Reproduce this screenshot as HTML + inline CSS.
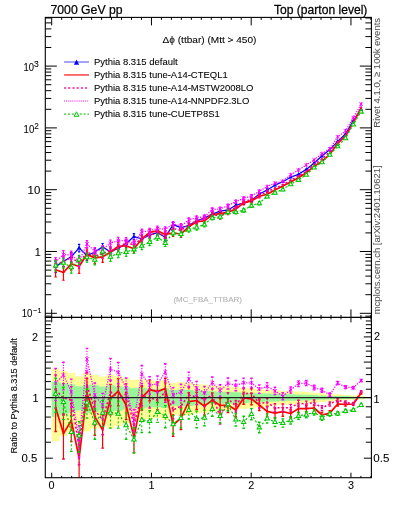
<!DOCTYPE html>
<html><head><meta charset="utf-8"><style>html,body{margin:0;padding:0;background:#fff;width:393px;height:512px;overflow:hidden;position:relative}svg text{font-family:"Liberation Sans",sans-serif;stroke:currentColor;stroke-width:0.08px}</style></head><body><div style="position:absolute;left:0;top:0;width:393px;height:512px;will-change:transform"><svg width="393" height="512" viewBox="0 0 393 512" style="position:absolute;left:0;top:0"><defs><clipPath id="cm"><rect x="45.3" y="17.4" width="326.09999999999997" height="300.0"/></clipPath><clipPath id="cr"><rect x="45.3" y="317.4" width="326.09999999999997" height="160.3"/></clipPath></defs><g clip-path="url(#cr)"><path d="M51.70,441.14 L51.70,368.59 L59.53,368.59 L59.53,370.90 L67.37,370.90 L67.37,372.85 L75.20,372.85 L75.20,376.16 L83.04,376.16 L83.04,373.21 L90.87,373.21 L90.87,374.67 L98.71,374.67 L98.71,376.51 L106.54,376.51 L106.54,374.67 L114.37,374.67 L114.37,376.06 L122.21,376.06 L122.21,377.67 L130.04,377.67 L130.04,379.87 L137.88,379.87 L137.88,379.14 L145.71,379.14 L145.71,380.37 L153.55,380.37 L153.55,380.97 L161.38,380.97 L161.38,379.66 L169.22,379.66 L169.22,383.11 L177.05,383.11 L177.05,382.33 L184.88,382.33 L184.88,382.86 L192.72,382.86 L192.72,384.03 L200.55,384.03 L200.55,384.62 L208.39,384.62 L208.39,385.51 L216.22,385.51 L216.22,386.12 L224.06,386.12 L224.06,386.34 L231.89,386.34 L231.89,387.23 L239.72,387.23 L239.72,387.67 L247.56,387.67 L247.56,388.06 L255.39,388.06 L255.39,389.10 L263.23,389.10 L263.23,389.68 L271.06,389.68 L271.06,390.32 L278.90,390.32 L278.90,390.76 L286.73,390.76 L286.73,391.29 L294.56,391.29 L294.56,391.61 L302.40,391.61 L302.40,392.11 L310.23,392.11 L310.23,392.70 L318.07,392.70 L318.07,393.28 L325.90,393.28 L325.90,393.75 L333.74,393.75 L333.74,394.28 L341.57,394.28 L341.57,394.69 L349.41,394.69 L349.41,395.31 L357.24,395.31 L357.24,395.74 L365.07,395.74 L365.07,399.40 L357.24,399.40 L357.24,399.85 L349.41,399.85 L349.41,400.51 L341.57,400.51 L341.57,400.95 L333.74,400.95 L333.74,401.52 L325.90,401.52 L325.90,402.04 L318.07,402.04 L318.07,402.68 L310.23,402.68 L310.23,403.35 L302.40,403.35 L302.40,403.93 L294.56,403.93 L294.56,404.29 L286.73,404.29 L286.73,404.91 L278.90,404.91 L278.90,405.43 L271.06,405.43 L271.06,406.20 L263.23,406.20 L263.23,406.91 L255.39,406.91 L255.39,408.19 L247.56,408.19 L247.56,408.69 L239.72,408.69 L239.72,409.26 L231.89,409.26 L231.89,410.41 L224.06,410.41 L224.06,410.70 L216.22,410.70 L216.22,411.52 L208.39,411.52 L208.39,412.73 L200.55,412.73 L200.55,413.55 L192.72,413.55 L192.72,415.21 L184.88,415.21 L184.88,416.00 L177.05,416.00 L177.05,414.85 L169.22,414.85 L169.22,420.06 L161.38,420.06 L161.38,418.02 L153.55,418.02 L153.55,418.95 L145.71,418.95 L145.71,420.89 L137.88,420.89 L137.88,419.73 L130.04,419.73 L130.04,423.32 L122.21,423.32 L122.21,426.11 L114.37,426.11 L114.37,428.62 L106.54,428.62 L106.54,425.30 L98.71,425.30 L98.71,428.62 L90.87,428.62 L90.87,431.40 L83.04,431.40 L83.04,425.92 L75.20,425.92 L75.20,432.10 L67.37,432.10 L67.37,436.07 L59.53,436.07 L59.53,441.14 L51.70,441.14 Z" fill="#fffc9a" stroke="none"/><path d="M51.70,416.66 L51.70,381.88 L59.53,381.88 L59.53,383.21 L67.37,383.21 L67.37,384.33 L75.20,384.33 L75.20,386.20 L83.04,386.20 L83.04,384.53 L90.87,384.53 L90.87,385.36 L98.71,385.36 L98.71,386.40 L106.54,386.40 L106.54,385.36 L114.37,385.36 L114.37,386.14 L122.21,386.14 L122.21,387.05 L130.04,387.05 L130.04,388.26 L137.88,388.26 L137.88,387.86 L145.71,387.86 L145.71,388.54 L153.55,388.54 L153.55,388.87 L161.38,388.87 L161.38,388.15 L169.22,388.15 L169.22,390.03 L177.05,390.03 L177.05,389.61 L184.88,389.61 L184.88,389.90 L192.72,389.90 L192.72,390.53 L200.55,390.53 L200.55,390.85 L208.39,390.85 L208.39,391.32 L216.22,391.32 L216.22,391.65 L224.06,391.65 L224.06,391.77 L231.89,391.77 L231.89,392.24 L239.72,392.24 L239.72,392.47 L247.56,392.47 L247.56,392.68 L255.39,392.68 L255.39,393.22 L263.23,393.22 L263.23,393.52 L271.06,393.52 L271.06,393.86 L278.90,393.86 L278.90,394.09 L286.73,394.09 L286.73,394.36 L294.56,394.36 L294.56,394.53 L302.40,394.53 L302.40,394.79 L310.23,394.79 L310.23,395.09 L318.07,395.09 L318.07,395.39 L325.90,395.39 L325.90,395.63 L333.74,395.63 L333.74,395.90 L341.57,395.90 L341.57,396.11 L349.41,396.11 L349.41,396.42 L357.24,396.42 L357.24,396.64 L365.07,396.64 L365.07,398.47 L357.24,398.47 L357.24,398.69 L349.41,398.69 L349.41,399.02 L341.57,399.02 L341.57,399.23 L333.74,399.23 L333.74,399.51 L325.90,399.51 L325.90,399.76 L318.07,399.76 L318.07,400.08 L310.23,400.08 L310.23,400.40 L302.40,400.40 L302.40,400.68 L294.56,400.68 L294.56,400.86 L286.73,400.86 L286.73,401.15 L278.90,401.15 L278.90,401.40 L271.06,401.40 L271.06,401.77 L263.23,401.77 L263.23,402.10 L255.39,402.10 L255.39,402.71 L247.56,402.71 L247.56,402.94 L239.72,402.94 L239.72,403.21 L231.89,403.21 L231.89,403.74 L224.06,403.74 L224.06,403.88 L216.22,403.88 L216.22,404.25 L208.39,404.25 L208.39,404.81 L200.55,404.81 L200.55,405.19 L192.72,405.19 L192.72,405.94 L184.88,405.94 L184.88,406.29 L177.05,406.29 L177.05,405.77 L169.22,405.77 L169.22,408.08 L161.38,408.08 L161.38,407.19 L153.55,407.19 L153.55,407.60 L145.71,407.60 L145.71,408.45 L137.88,408.45 L137.88,407.94 L130.04,407.94 L130.04,409.49 L122.21,409.49 L122.21,410.67 L114.37,410.67 L114.37,411.71 L106.54,411.71 L106.54,410.33 L98.71,410.33 L98.71,411.71 L90.87,411.71 L90.87,412.85 L83.04,412.85 L83.04,410.59 L75.20,410.59 L75.20,413.13 L67.37,413.13 L67.37,414.71 L59.53,414.71 L59.53,416.66 L51.70,416.66 Z" fill="#99f599" stroke="none"/><path d="M55.62,388.86V431.49M63.45,413.96V458.96M71.29,403.54V441.56M79.12,440.25V480.30M86.95,378.54V410.34M94.79,401.26V435.21M102.62,414.83V448.13M110.46,384.37V414.88M118.29,378.64V405.87M126.13,392.54V419.54M133.96,424.29V452.83M141.79,386.64V410.37M149.63,379.84V400.81M157.46,382.00V402.38M165.30,378.28V400.07M173.13,415.03V436.25M180.97,407.86V429.47M188.80,392.76V411.66M196.64,392.34V409.50M204.47,398.16V415.05M212.30,392.97V408.08M220.14,398.45V413.17M227.97,398.10V412.49M235.81,403.48V417.04M243.64,392.17V404.25M251.48,393.18V404.80M259.31,399.83V410.50M267.14,406.32V416.58M274.98,408.49V417.97M282.81,407.41V416.22M290.65,409.50V417.69M298.48,404.91V412.45M306.32,405.23V412.11M314.15,405.01V411.10M321.98,412.27V417.82M329.82,410.69V415.57M337.65,402.03V406.01M345.49,402.58V406.06M353.32,402.66V405.36M361.16,391.98V394.03" stroke="#ff0000" stroke-width="1.2" fill="none"/><path d="M54.32,388.86H56.92M54.32,431.49H56.92M62.15,413.96H64.75M62.15,458.96H64.75M69.99,403.54H72.59M69.99,441.56H72.59M77.82,440.25H80.42M77.82,480.30H80.42M85.65,378.54H88.25M85.65,410.34H88.25M93.49,401.26H96.09M93.49,435.21H96.09M101.32,414.83H103.92M101.32,448.13H103.92M109.16,384.37H111.76M109.16,414.88H111.76M116.99,378.64H119.59M116.99,405.87H119.59M124.83,392.54H127.43M124.83,419.54H127.43M132.66,424.29H135.26M132.66,452.83H135.26M140.49,386.64H143.09M140.49,410.37H143.09M148.33,379.84H150.93M148.33,400.81H150.93M156.16,382.00H158.76M156.16,402.38H158.76M164.00,378.28H166.60M164.00,400.07H166.60M171.83,415.03H174.43M171.83,436.25H174.43M179.67,407.86H182.27M179.67,429.47H182.27M187.50,392.76H190.10M187.50,411.66H190.10M195.34,392.34H197.94M195.34,409.50H197.94M203.17,398.16H205.77M203.17,415.05H205.77M211.00,392.97H213.60M211.00,408.08H213.60M218.84,398.45H221.44M218.84,413.17H221.44M226.67,398.10H229.27M226.67,412.49H229.27M234.51,403.48H237.11M234.51,417.04H237.11M242.34,392.17H244.94M242.34,404.25H244.94M250.18,393.18H252.78M250.18,404.80H252.78M258.01,399.83H260.61M258.01,410.50H260.61M265.84,406.32H268.44M265.84,416.58H268.44M273.68,408.49H276.28M273.68,417.97H276.28M281.51,407.41H284.11M281.51,416.22H284.11M289.35,409.50H291.95M289.35,417.69H291.95M297.18,404.91H299.78M297.18,412.45H299.78M305.02,405.23H307.62M305.02,412.11H307.62M312.85,405.01H315.45M312.85,411.10H315.45M320.68,412.27H323.28M320.68,417.82H323.28M328.52,410.69H331.12M328.52,415.57H331.12M336.35,402.03H338.95M336.35,406.01H338.95M344.19,402.58H346.79M344.19,406.06H346.79M352.02,402.66H354.62M352.02,405.36H354.62M359.86,391.98H362.46M359.86,394.03H362.46" stroke="#ff0000" stroke-width="1.4" fill="none"/><path d="M55.62,407.60 L63.45,433.60 L71.29,420.50 L79.12,458.00 L86.95,393.00 L94.79,416.60 L102.62,429.90 L110.46,398.30 L118.29,391.20 L126.13,405.00 L133.96,437.40 L141.79,397.70 L149.63,389.70 L157.46,391.60 L165.30,388.50 L173.13,425.00 L180.97,418.00 L188.80,401.70 L196.64,400.50 L204.47,406.20 L212.30,400.20 L220.14,405.50 L227.97,405.00 L235.81,410.00 L243.64,398.00 L251.48,398.80 L259.31,405.00 L267.14,411.30 L274.98,413.10 L282.81,411.70 L290.65,413.50 L298.48,408.60 L306.32,408.60 L314.15,408.00 L321.98,415.00 L329.82,413.10 L337.65,404.00 L345.49,404.30 L353.32,404.00 L361.16,393.00" stroke="#ff0000" stroke-width="1.7" fill="none" stroke-linejoin="round"/><path d="M54.62,407.60a1,1 0 1,0 2,0a1,1 0 1,0 -2,0M62.45,433.60a1,1 0 1,0 2,0a1,1 0 1,0 -2,0M70.29,420.50a1,1 0 1,0 2,0a1,1 0 1,0 -2,0M78.12,458.00a1,1 0 1,0 2,0a1,1 0 1,0 -2,0M85.95,393.00a1,1 0 1,0 2,0a1,1 0 1,0 -2,0M93.79,416.60a1,1 0 1,0 2,0a1,1 0 1,0 -2,0M101.62,429.90a1,1 0 1,0 2,0a1,1 0 1,0 -2,0M109.46,398.30a1,1 0 1,0 2,0a1,1 0 1,0 -2,0M117.29,391.20a1,1 0 1,0 2,0a1,1 0 1,0 -2,0M125.13,405.00a1,1 0 1,0 2,0a1,1 0 1,0 -2,0M132.96,437.40a1,1 0 1,0 2,0a1,1 0 1,0 -2,0M140.79,397.70a1,1 0 1,0 2,0a1,1 0 1,0 -2,0M148.63,389.70a1,1 0 1,0 2,0a1,1 0 1,0 -2,0M156.46,391.60a1,1 0 1,0 2,0a1,1 0 1,0 -2,0M164.30,388.50a1,1 0 1,0 2,0a1,1 0 1,0 -2,0M172.13,425.00a1,1 0 1,0 2,0a1,1 0 1,0 -2,0M179.97,418.00a1,1 0 1,0 2,0a1,1 0 1,0 -2,0M187.80,401.70a1,1 0 1,0 2,0a1,1 0 1,0 -2,0M195.64,400.50a1,1 0 1,0 2,0a1,1 0 1,0 -2,0M203.47,406.20a1,1 0 1,0 2,0a1,1 0 1,0 -2,0M211.30,400.20a1,1 0 1,0 2,0a1,1 0 1,0 -2,0M219.14,405.50a1,1 0 1,0 2,0a1,1 0 1,0 -2,0M226.97,405.00a1,1 0 1,0 2,0a1,1 0 1,0 -2,0M234.81,410.00a1,1 0 1,0 2,0a1,1 0 1,0 -2,0M242.64,398.00a1,1 0 1,0 2,0a1,1 0 1,0 -2,0M250.48,398.80a1,1 0 1,0 2,0a1,1 0 1,0 -2,0M258.31,405.00a1,1 0 1,0 2,0a1,1 0 1,0 -2,0M266.14,411.30a1,1 0 1,0 2,0a1,1 0 1,0 -2,0M273.98,413.10a1,1 0 1,0 2,0a1,1 0 1,0 -2,0M281.81,411.70a1,1 0 1,0 2,0a1,1 0 1,0 -2,0M289.65,413.50a1,1 0 1,0 2,0a1,1 0 1,0 -2,0M297.48,408.60a1,1 0 1,0 2,0a1,1 0 1,0 -2,0M305.32,408.60a1,1 0 1,0 2,0a1,1 0 1,0 -2,0M313.15,408.00a1,1 0 1,0 2,0a1,1 0 1,0 -2,0M320.98,415.00a1,1 0 1,0 2,0a1,1 0 1,0 -2,0M328.82,413.10a1,1 0 1,0 2,0a1,1 0 1,0 -2,0M336.65,404.00a1,1 0 1,0 2,0a1,1 0 1,0 -2,0M344.49,404.30a1,1 0 1,0 2,0a1,1 0 1,0 -2,0M352.32,404.00a1,1 0 1,0 2,0a1,1 0 1,0 -2,0M360.16,393.00a1,1 0 1,0 2,0a1,1 0 1,0 -2,0" fill="#ff0000"/><path d="M55.62,374.94V408.21M63.45,383.63V415.20M71.29,386.61V415.82M79.12,432.25V464.76M86.95,372.82V399.15M94.79,396.98V425.30M102.62,407.43V434.69M110.46,380.17V405.68M118.29,386.57V411.15M126.13,383.69V405.68M133.96,414.23V437.28M141.79,385.45V405.73M149.63,388.97V408.07M157.46,391.20V409.78M165.30,382.88V402.19M173.13,401.95V418.86M180.97,397.68V415.19M188.80,387.45V403.26M196.64,390.00V404.61M204.47,392.53V406.64M212.30,388.86V401.60M220.14,410.43V424.10M227.97,392.78V404.83M235.81,400.43V411.95M243.64,388.53V398.76M251.48,388.74V398.54M259.31,398.83V408.01M267.14,398.26V406.74M274.98,403.80V411.79M282.81,404.04V411.52M290.65,404.33V411.21M298.48,400.18V406.54M306.32,401.14V406.96M314.15,399.97V405.10M321.98,405.71V410.35M329.82,402.01V406.04M337.65,398.33V401.71M345.49,401.02V404.01M353.32,402.44V404.78M361.16,390.62V392.39" stroke="#ff0080" stroke-width="1.1" fill="none" stroke-dasharray="2,2.2"/><path d="M54.32,374.94H56.92M54.32,408.21H56.92M62.15,383.63H64.75M62.15,415.20H64.75M69.99,386.61H72.59M69.99,415.82H72.59M77.82,432.25H80.42M77.82,464.76H80.42M85.65,372.82H88.25M85.65,399.15H88.25M93.49,396.98H96.09M93.49,425.30H96.09M101.32,407.43H103.92M101.32,434.69H103.92M109.16,380.17H111.76M109.16,405.68H111.76M116.99,386.57H119.59M116.99,411.15H119.59M124.83,383.69H127.43M124.83,405.68H127.43M132.66,414.23H135.26M132.66,437.28H135.26M140.49,385.45H143.09M140.49,405.73H143.09M148.33,388.97H150.93M148.33,408.07H150.93M156.16,391.20H158.76M156.16,409.78H158.76M164.00,382.88H166.60M164.00,402.19H166.60M171.83,401.95H174.43M171.83,418.86H174.43M179.67,397.68H182.27M179.67,415.19H182.27M187.50,387.45H190.10M187.50,403.26H190.10M195.34,390.00H197.94M195.34,404.61H197.94M203.17,392.53H205.77M203.17,406.64H205.77M211.00,388.86H213.60M211.00,401.60H213.60M218.84,410.43H221.44M218.84,424.10H221.44M226.67,392.78H229.27M226.67,404.83H229.27M234.51,400.43H237.11M234.51,411.95H237.11M242.34,388.53H244.94M242.34,398.76H244.94M250.18,388.74H252.78M250.18,398.54H252.78M258.01,398.83H260.61M258.01,408.01H260.61M265.84,398.26H268.44M265.84,406.74H268.44M273.68,403.80H276.28M273.68,411.79H276.28M281.51,404.04H284.11M281.51,411.52H284.11M289.35,404.33H291.95M289.35,411.21H291.95M297.18,400.18H299.78M297.18,406.54H299.78M305.02,401.14H307.62M305.02,406.96H307.62M312.85,399.97H315.45M312.85,405.10H315.45M320.68,405.71H323.28M320.68,410.35H323.28M328.52,402.01H331.12M328.52,406.04H331.12M336.35,398.33H338.95M336.35,401.71H338.95M344.19,401.02H346.79M344.19,404.01H346.79M352.02,402.44H354.62M352.02,404.78H354.62M359.86,390.62H362.46M359.86,392.39H362.46" stroke="#ff0080" stroke-width="1.4" fill="none"/><path d="M55.62,390.00 L63.45,398.00 L71.29,400.00 L79.12,447.00 L86.95,385.00 L94.79,410.00 L102.62,420.00 L110.46,392.00 L118.29,398.00 L126.13,394.00 L133.96,425.00 L141.79,395.00 L149.63,398.00 L157.46,400.00 L165.30,392.00 L173.13,410.00 L180.97,406.00 L188.80,395.00 L196.64,397.00 L204.47,399.30 L212.30,395.00 L220.14,417.00 L227.97,398.60 L235.81,406.00 L243.64,393.50 L251.48,393.50 L259.31,403.30 L267.14,402.40 L274.98,407.70 L282.81,407.70 L290.65,407.70 L298.48,403.30 L306.32,404.00 L314.15,402.50 L321.98,408.00 L329.82,404.00 L337.65,400.00 L345.49,402.50 L353.32,403.60 L361.16,391.50" stroke="#ff0080" stroke-width="1.6" fill="none" stroke-dasharray="2,2.2" stroke-linejoin="round"/><path d="M54.52,390.00a1.1,1.1 0 1,0 2.2,0a1.1,1.1 0 1,0 -2.2,0M62.35,398.00a1.1,1.1 0 1,0 2.2,0a1.1,1.1 0 1,0 -2.2,0M70.19,400.00a1.1,1.1 0 1,0 2.2,0a1.1,1.1 0 1,0 -2.2,0M78.02,447.00a1.1,1.1 0 1,0 2.2,0a1.1,1.1 0 1,0 -2.2,0M85.85,385.00a1.1,1.1 0 1,0 2.2,0a1.1,1.1 0 1,0 -2.2,0M93.69,410.00a1.1,1.1 0 1,0 2.2,0a1.1,1.1 0 1,0 -2.2,0M101.52,420.00a1.1,1.1 0 1,0 2.2,0a1.1,1.1 0 1,0 -2.2,0M109.36,392.00a1.1,1.1 0 1,0 2.2,0a1.1,1.1 0 1,0 -2.2,0M117.19,398.00a1.1,1.1 0 1,0 2.2,0a1.1,1.1 0 1,0 -2.2,0M125.03,394.00a1.1,1.1 0 1,0 2.2,0a1.1,1.1 0 1,0 -2.2,0M132.86,425.00a1.1,1.1 0 1,0 2.2,0a1.1,1.1 0 1,0 -2.2,0M140.69,395.00a1.1,1.1 0 1,0 2.2,0a1.1,1.1 0 1,0 -2.2,0M148.53,398.00a1.1,1.1 0 1,0 2.2,0a1.1,1.1 0 1,0 -2.2,0M156.36,400.00a1.1,1.1 0 1,0 2.2,0a1.1,1.1 0 1,0 -2.2,0M164.20,392.00a1.1,1.1 0 1,0 2.2,0a1.1,1.1 0 1,0 -2.2,0M172.03,410.00a1.1,1.1 0 1,0 2.2,0a1.1,1.1 0 1,0 -2.2,0M179.87,406.00a1.1,1.1 0 1,0 2.2,0a1.1,1.1 0 1,0 -2.2,0M187.70,395.00a1.1,1.1 0 1,0 2.2,0a1.1,1.1 0 1,0 -2.2,0M195.54,397.00a1.1,1.1 0 1,0 2.2,0a1.1,1.1 0 1,0 -2.2,0M203.37,399.30a1.1,1.1 0 1,0 2.2,0a1.1,1.1 0 1,0 -2.2,0M211.20,395.00a1.1,1.1 0 1,0 2.2,0a1.1,1.1 0 1,0 -2.2,0M219.04,417.00a1.1,1.1 0 1,0 2.2,0a1.1,1.1 0 1,0 -2.2,0M226.87,398.60a1.1,1.1 0 1,0 2.2,0a1.1,1.1 0 1,0 -2.2,0M234.71,406.00a1.1,1.1 0 1,0 2.2,0a1.1,1.1 0 1,0 -2.2,0M242.54,393.50a1.1,1.1 0 1,0 2.2,0a1.1,1.1 0 1,0 -2.2,0M250.38,393.50a1.1,1.1 0 1,0 2.2,0a1.1,1.1 0 1,0 -2.2,0M258.21,403.30a1.1,1.1 0 1,0 2.2,0a1.1,1.1 0 1,0 -2.2,0M266.04,402.40a1.1,1.1 0 1,0 2.2,0a1.1,1.1 0 1,0 -2.2,0M273.88,407.70a1.1,1.1 0 1,0 2.2,0a1.1,1.1 0 1,0 -2.2,0M281.71,407.70a1.1,1.1 0 1,0 2.2,0a1.1,1.1 0 1,0 -2.2,0M289.55,407.70a1.1,1.1 0 1,0 2.2,0a1.1,1.1 0 1,0 -2.2,0M297.38,403.30a1.1,1.1 0 1,0 2.2,0a1.1,1.1 0 1,0 -2.2,0M305.22,404.00a1.1,1.1 0 1,0 2.2,0a1.1,1.1 0 1,0 -2.2,0M313.05,402.50a1.1,1.1 0 1,0 2.2,0a1.1,1.1 0 1,0 -2.2,0M320.88,408.00a1.1,1.1 0 1,0 2.2,0a1.1,1.1 0 1,0 -2.2,0M328.72,404.00a1.1,1.1 0 1,0 2.2,0a1.1,1.1 0 1,0 -2.2,0M336.55,400.00a1.1,1.1 0 1,0 2.2,0a1.1,1.1 0 1,0 -2.2,0M344.39,402.50a1.1,1.1 0 1,0 2.2,0a1.1,1.1 0 1,0 -2.2,0M352.22,403.60a1.1,1.1 0 1,0 2.2,0a1.1,1.1 0 1,0 -2.2,0M360.06,391.50a1.1,1.1 0 1,0 2.2,0a1.1,1.1 0 1,0 -2.2,0" fill="#ff0080"/><path d="M55.62,368.48V400.42M63.45,362.28V389.89M71.29,379.16V407.05M79.12,425.78V456.99M86.95,348.41V371.05M94.79,382.98V408.94M102.62,393.40V418.38M110.46,358.54V380.88M118.29,362.53V383.75M126.13,378.02V399.26M133.96,409.52V431.91M141.79,365.47V383.45M149.63,376.58V394.31M157.46,375.94V392.88M165.30,363.82V381.03M173.13,387.59V403.10M180.97,384.29V400.45M188.80,372.09V386.50M196.64,381.34V395.21M204.47,386.46V400.07M212.30,376.96V388.84M220.14,384.73V396.46M227.97,378.05V389.10M235.81,380.53V390.77M243.64,378.12V387.74M251.48,378.31V387.53M259.31,384.87V393.33M267.14,382.62V390.35M274.98,387.25V394.50M282.81,392.77V399.77M290.65,386.95V393.16M298.48,380.90V386.59M306.32,380.36V385.52M314.15,385.18V389.88M321.98,388.13V392.32M329.82,392.91V396.73M337.65,381.38V384.45M345.49,385.74V388.48M353.32,386.73V388.88M361.16,379.67V381.33" stroke="#ff00ff" stroke-width="1.1" fill="none" stroke-dasharray="1.2,1.3"/><path d="M54.32,368.48H56.92M54.32,400.42H56.92M62.15,362.28H64.75M62.15,389.89H64.75M69.99,379.16H72.59M69.99,407.05H72.59M77.82,425.78H80.42M77.82,456.99H80.42M85.65,348.41H88.25M85.65,371.05H88.25M93.49,382.98H96.09M93.49,408.94H96.09M101.32,393.40H103.92M101.32,418.38H103.92M109.16,358.54H111.76M109.16,380.88H111.76M116.99,362.53H119.59M116.99,383.75H119.59M124.83,378.02H127.43M124.83,399.26H127.43M132.66,409.52H135.26M132.66,431.91H135.26M140.49,365.47H143.09M140.49,383.45H143.09M148.33,376.58H150.93M148.33,394.31H150.93M156.16,375.94H158.76M156.16,392.88H158.76M164.00,363.82H166.60M164.00,381.03H166.60M171.83,387.59H174.43M171.83,403.10H174.43M179.67,384.29H182.27M179.67,400.45H182.27M187.50,372.09H190.10M187.50,386.50H190.10M195.34,381.34H197.94M195.34,395.21H197.94M203.17,386.46H205.77M203.17,400.07H205.77M211.00,376.96H213.60M211.00,388.84H213.60M218.84,384.73H221.44M218.84,396.46H221.44M226.67,378.05H229.27M226.67,389.10H229.27M234.51,380.53H237.11M234.51,390.77H237.11M242.34,378.12H244.94M242.34,387.74H244.94M250.18,378.31H252.78M250.18,387.53H252.78M258.01,384.87H260.61M258.01,393.33H260.61M265.84,382.62H268.44M265.84,390.35H268.44M273.68,387.25H276.28M273.68,394.50H276.28M281.51,392.77H284.11M281.51,399.77H284.11M289.35,386.95H291.95M289.35,393.16H291.95M297.18,380.90H299.78M297.18,386.59H299.78M305.02,380.36H307.62M305.02,385.52H307.62M312.85,385.18H315.45M312.85,389.88H315.45M320.68,388.13H323.28M320.68,392.32H323.28M328.52,392.91H331.12M328.52,396.73H331.12M336.35,381.38H338.95M336.35,384.45H338.95M344.19,385.74H346.79M344.19,388.48H346.79M352.02,386.73H354.62M352.02,388.88H354.62M359.86,379.67H362.46M359.86,381.33H362.46" stroke="#ff00ff" stroke-width="1.4" fill="none"/><path d="M55.62,383.00 L63.45,375.00 L71.29,392.00 L79.12,440.00 L86.95,359.00 L94.79,395.00 L102.62,405.00 L110.46,369.00 L118.29,372.50 L126.13,388.00 L133.96,420.00 L141.79,374.00 L149.63,385.00 L157.46,384.00 L165.30,372.00 L173.13,395.00 L180.97,392.00 L188.80,379.00 L196.64,388.00 L204.47,393.00 L212.30,382.70 L220.14,390.40 L227.97,383.40 L235.81,385.50 L243.64,382.80 L251.48,382.80 L259.31,389.00 L267.14,386.40 L274.98,390.80 L282.81,396.20 L290.65,390.00 L298.48,383.70 L306.32,382.90 L314.15,387.50 L321.98,390.20 L329.82,394.80 L337.65,382.90 L345.49,387.10 L353.32,387.80 L361.16,380.50" stroke="#ff00ff" stroke-width="1.3" fill="none" stroke-dasharray="1.2,1.3" stroke-linejoin="round"/><path d="M53.92,381.30L57.32,384.70M57.32,381.30L53.92,384.70M55.62,380.90V385.10M61.75,373.30L65.15,376.70M65.15,373.30L61.75,376.70M63.45,372.90V377.10M69.59,390.30L72.99,393.70M72.99,390.30L69.59,393.70M71.29,389.90V394.10M77.42,438.30L80.82,441.70M80.82,438.30L77.42,441.70M79.12,437.90V442.10M85.25,357.30L88.65,360.70M88.65,357.30L85.25,360.70M86.95,356.90V361.10M93.09,393.30L96.49,396.70M96.49,393.30L93.09,396.70M94.79,392.90V397.10M100.92,403.30L104.32,406.70M104.32,403.30L100.92,406.70M102.62,402.90V407.10M108.76,367.30L112.16,370.70M112.16,367.30L108.76,370.70M110.46,366.90V371.10M116.59,370.80L119.99,374.20M119.99,370.80L116.59,374.20M118.29,370.40V374.60M124.43,386.30L127.83,389.70M127.83,386.30L124.43,389.70M126.13,385.90V390.10M132.26,418.30L135.66,421.70M135.66,418.30L132.26,421.70M133.96,417.90V422.10M140.09,372.30L143.49,375.70M143.49,372.30L140.09,375.70M141.79,371.90V376.10M147.93,383.30L151.33,386.70M151.33,383.30L147.93,386.70M149.63,382.90V387.10M155.76,382.30L159.16,385.70M159.16,382.30L155.76,385.70M157.46,381.90V386.10M163.60,370.30L167.00,373.70M167.00,370.30L163.60,373.70M165.30,369.90V374.10M171.43,393.30L174.83,396.70M174.83,393.30L171.43,396.70M173.13,392.90V397.10M179.27,390.30L182.67,393.70M182.67,390.30L179.27,393.70M180.97,389.90V394.10M187.10,377.30L190.50,380.70M190.50,377.30L187.10,380.70M188.80,376.90V381.10M194.94,386.30L198.34,389.70M198.34,386.30L194.94,389.70M196.64,385.90V390.10M202.77,391.30L206.17,394.70M206.17,391.30L202.77,394.70M204.47,390.90V395.10M210.60,381.00L214.00,384.40M214.00,381.00L210.60,384.40M212.30,380.60V384.80M218.44,388.70L221.84,392.10M221.84,388.70L218.44,392.10M220.14,388.30V392.50M226.27,381.70L229.67,385.10M229.67,381.70L226.27,385.10M227.97,381.30V385.50M234.11,383.80L237.51,387.20M237.51,383.80L234.11,387.20M235.81,383.40V387.60M241.94,381.10L245.34,384.50M245.34,381.10L241.94,384.50M243.64,380.70V384.90M249.78,381.10L253.18,384.50M253.18,381.10L249.78,384.50M251.48,380.70V384.90M257.61,387.30L261.01,390.70M261.01,387.30L257.61,390.70M259.31,386.90V391.10M265.44,384.70L268.84,388.10M268.84,384.70L265.44,388.10M267.14,384.30V388.50M273.28,389.10L276.68,392.50M276.68,389.10L273.28,392.50M274.98,388.70V392.90M281.11,394.50L284.51,397.90M284.51,394.50L281.11,397.90M282.81,394.10V398.30M288.95,388.30L292.35,391.70M292.35,388.30L288.95,391.70M290.65,387.90V392.10M296.78,382.00L300.18,385.40M300.18,382.00L296.78,385.40M298.48,381.60V385.80M304.62,381.20L308.02,384.60M308.02,381.20L304.62,384.60M306.32,380.80V385.00M312.45,385.80L315.85,389.20M315.85,385.80L312.45,389.20M314.15,385.40V389.60M320.28,388.50L323.68,391.90M323.68,388.50L320.28,391.90M321.98,388.10V392.30M328.12,393.10L331.52,396.50M331.52,393.10L328.12,396.50M329.82,392.70V396.90M335.95,381.20L339.35,384.60M339.35,381.20L335.95,384.60M337.65,380.80V385.00M343.79,385.40L347.19,388.80M347.19,385.40L343.79,388.80M345.49,385.00V389.20M351.62,386.10L355.02,389.50M355.02,386.10L351.62,389.50M353.32,385.70V389.90M359.46,378.80L362.86,382.20M362.86,378.80L359.46,382.20M361.16,378.40V382.60" fill="none" stroke="#ff00ff" stroke-width="0.95"/><path d="M55.62,378.25V412.23M63.45,387.32V419.65M71.29,416.15V451.37M79.12,421.61V452.02M86.95,389.04V418.17M94.79,408.77V439.27M102.62,400.52V426.63M110.46,399.40V428.16M118.29,401.17V428.09M126.13,412.92V439.25M133.96,427.77V452.82M141.79,409.07V432.50M149.63,410.77V432.59M157.46,402.52V422.41M165.30,405.61V427.79M173.13,415.41V433.75M180.97,409.12V427.88M188.80,401.71V418.93M196.64,411.10V427.68M204.47,410.12V425.78M212.30,402.37V416.18M220.14,409.47V423.06M227.97,398.30V410.75M235.81,413.50V425.94M243.64,416.18V428.23M251.48,408.66V419.68M259.31,422.19V432.73M267.14,413.88V423.17M274.98,417.77V426.44M282.81,418.91V427.08M290.65,416.58V423.97M298.48,412.45V419.28M306.32,411.56V417.75M314.15,409.53V414.95M321.98,415.28V420.19M329.82,411.89V416.16M337.65,411.69V415.34M345.49,409.44V412.58M353.32,408.59V411.02M361.16,403.95V405.86" stroke="#00c800" stroke-width="1.0" fill="none" stroke-dasharray="2.2,1.8"/><path d="M54.32,378.25H56.92M54.32,412.23H56.92M62.15,387.32H64.75M62.15,419.65H64.75M69.99,416.15H72.59M69.99,451.37H72.59M77.82,421.61H80.42M77.82,452.02H80.42M85.65,389.04H88.25M85.65,418.17H88.25M93.49,408.77H96.09M93.49,439.27H96.09M101.32,400.52H103.92M101.32,426.63H103.92M109.16,399.40H111.76M109.16,428.16H111.76M116.99,401.17H119.59M116.99,428.09H119.59M124.83,412.92H127.43M124.83,439.25H127.43M132.66,427.77H135.26M132.66,452.82H135.26M140.49,409.07H143.09M140.49,432.50H143.09M148.33,410.77H150.93M148.33,432.59H150.93M156.16,402.52H158.76M156.16,422.41H158.76M164.00,405.61H166.60M164.00,427.79H166.60M171.83,415.41H174.43M171.83,433.75H174.43M179.67,409.12H182.27M179.67,427.88H182.27M187.50,401.71H190.10M187.50,418.93H190.10M195.34,411.10H197.94M195.34,427.68H197.94M203.17,410.12H205.77M203.17,425.78H205.77M211.00,402.37H213.60M211.00,416.18H213.60M218.84,409.47H221.44M218.84,423.06H221.44M226.67,398.30H229.27M226.67,410.75H229.27M234.51,413.50H237.11M234.51,425.94H237.11M242.34,416.18H244.94M242.34,428.23H244.94M250.18,408.66H252.78M250.18,419.68H252.78M258.01,422.19H260.61M258.01,432.73H260.61M265.84,413.88H268.44M265.84,423.17H268.44M273.68,417.77H276.28M273.68,426.44H276.28M281.51,418.91H284.11M281.51,427.08H284.11M289.35,416.58H291.95M289.35,423.97H291.95M297.18,412.45H299.78M297.18,419.28H299.78M305.02,411.56H307.62M305.02,417.75H307.62M312.85,409.53H315.45M312.85,414.95H315.45M320.68,415.28H323.28M320.68,420.19H323.28M328.52,411.89H331.12M328.52,416.16H331.12M336.35,411.69H338.95M336.35,415.34H338.95M344.19,409.44H346.79M344.19,412.58H346.79M352.02,408.59H354.62M352.02,411.02H354.62M359.86,403.95H362.46M359.86,405.86H362.46" stroke="#00c800" stroke-width="1.4" fill="none"/><path d="M55.62,393.60 L63.45,402.00 L71.29,432.00 L79.12,435.50 L86.95,402.40 L94.79,422.70 L102.62,412.60 L110.46,412.60 L118.29,413.60 L126.13,425.10 L133.96,439.40 L141.79,420.00 L149.63,421.00 L157.46,411.90 L165.30,416.00 L173.13,424.10 L180.97,418.00 L188.80,409.90 L196.64,419.00 L204.47,417.60 L212.30,409.00 L220.14,416.00 L227.97,404.30 L235.81,419.50 L243.64,422.00 L251.48,414.00 L259.31,427.30 L267.14,418.40 L274.98,422.00 L282.81,422.90 L290.65,420.20 L298.48,415.80 L306.32,414.60 L314.15,412.20 L321.98,417.70 L329.82,414.00 L337.65,413.50 L345.49,411.00 L353.32,409.80 L361.16,404.90" stroke="#00c800" stroke-width="1.2" fill="none" stroke-dasharray="2.2,1.8" stroke-linejoin="round"/><path d="M55.62,391.20L57.82,395.15H53.42ZM63.45,399.60L65.65,403.55H61.25ZM71.29,429.60L73.49,433.55H69.09ZM79.12,433.10L81.32,437.05H76.92ZM86.95,400.00L89.15,403.95H84.75ZM94.79,420.30L96.99,424.25H92.59ZM102.62,410.20L104.82,414.15H100.42ZM110.46,410.20L112.66,414.15H108.26ZM118.29,411.20L120.49,415.15H116.09ZM126.13,422.70L128.33,426.65H123.93ZM133.96,437.00L136.16,440.95H131.76ZM141.79,417.60L143.99,421.55H139.59ZM149.63,418.60L151.83,422.55H147.43ZM157.46,409.50L159.66,413.45H155.26ZM165.30,413.60L167.50,417.55H163.10ZM173.13,421.70L175.33,425.65H170.93ZM180.97,415.60L183.17,419.55H178.77ZM188.80,407.50L191.00,411.45H186.60ZM196.64,416.60L198.84,420.55H194.44ZM204.47,415.20L206.67,419.15H202.27ZM212.30,406.60L214.50,410.55H210.10ZM220.14,413.60L222.34,417.55H217.94ZM227.97,401.90L230.17,405.85H225.77ZM235.81,417.10L238.01,421.05H233.61ZM243.64,419.60L245.84,423.55H241.44ZM251.48,411.60L253.68,415.55H249.28ZM259.31,424.90L261.51,428.85H257.11ZM267.14,416.00L269.34,419.95H264.94ZM274.98,419.60L277.18,423.55H272.78ZM282.81,420.50L285.01,424.45H280.61ZM290.65,417.80L292.85,421.75H288.45ZM298.48,413.40L300.68,417.35H296.28ZM306.32,412.20L308.52,416.15H304.12ZM314.15,409.80L316.35,413.75H311.95ZM321.98,415.30L324.18,419.25H319.78ZM329.82,411.60L332.02,415.55H327.62ZM337.65,411.10L339.85,415.05H335.45ZM345.49,408.60L347.69,412.55H343.29ZM353.32,407.40L355.52,411.35H351.12ZM361.16,402.50L363.36,406.45H358.96Z" fill="#fff" stroke="#00c800" stroke-width="1.05"/></g><g clip-path="url(#cm)"><path d="M55.62,261.79V272.46M63.45,257.00V266.66M71.29,252.64V261.48M79.12,244.42V251.90M86.95,251.81V260.49M94.79,248.26V256.35M102.62,243.48V250.82M110.46,248.26V256.35M118.29,244.70V252.23M126.13,240.28V247.16M133.96,233.65V239.69M141.79,235.93V242.24M149.63,232.04V237.88M157.46,230.04V235.66M165.30,234.32V240.43M173.13,222.29V227.12M180.97,225.26V230.38M188.80,223.25V228.17M196.64,218.65V223.14M204.47,216.14V220.43M212.30,212.19V216.16M220.14,209.29V213.04M227.97,208.23V211.90M235.81,203.67V207.04M243.64,201.24V204.45M251.48,199.01V202.08M259.31,192.67V195.40M267.14,188.76V191.29M274.98,184.07V186.38M282.81,180.64V182.81M290.65,176.22V178.21M298.48,173.37V175.26M306.32,168.55V170.28M314.15,162.25V163.78M321.98,155.34V156.68M329.82,149.01V150.20M337.65,140.89V141.92M345.49,133.66V134.55M353.32,120.35V121.05M361.16,109.02V109.58" stroke="#0000ff" stroke-width="1.0" fill="none"/><path d="M54.42,261.79H56.82M54.42,272.46H56.82M62.25,257.00H64.65M62.25,266.66H64.65M70.09,252.64H72.49M70.09,261.48H72.49M77.92,244.42H80.32M77.92,251.90H80.32M85.75,251.81H88.15M85.75,260.49H88.15M93.59,248.26H95.99M93.59,256.35H95.99M101.42,243.48H103.82M101.42,250.82H103.82M109.26,248.26H111.66M109.26,256.35H111.66M117.09,244.70H119.49M117.09,252.23H119.49M124.93,240.28H127.33M124.93,247.16H127.33M132.76,233.65H135.16M132.76,239.69H135.16M140.59,235.93H142.99M140.59,242.24H142.99M148.43,232.04H150.83M148.43,237.88H150.83M156.26,230.04H158.66M156.26,235.66H158.66M164.10,234.32H166.50M164.10,240.43H166.50M171.93,222.29H174.33M171.93,227.12H174.33M179.77,225.26H182.17M179.77,230.38H182.17M187.60,223.25H190.00M187.60,228.17H190.00M195.44,218.65H197.84M195.44,223.14H197.84M203.27,216.14H205.67M203.27,220.43H205.67M211.10,212.19H213.50M211.10,216.16H213.50M218.94,209.29H221.34M218.94,213.04H221.34M226.77,208.23H229.17M226.77,211.90H229.17M234.61,203.67H237.01M234.61,207.04H237.01M242.44,201.24H244.84M242.44,204.45H244.84M250.28,199.01H252.68M250.28,202.08H252.68M258.11,192.67H260.51M258.11,195.40H260.51M265.94,188.76H268.34M265.94,191.29H268.34" stroke="#0000ff" stroke-width="1.2" fill="none"/><path d="M55.62,266.60 L63.45,261.40 L71.29,256.70 L79.12,247.90 L86.95,255.80 L94.79,252.00 L102.62,246.90 L110.46,252.00 L118.29,248.20 L126.13,243.50 L133.96,236.50 L141.79,238.90 L149.63,234.80 L157.46,232.70 L165.30,237.20 L173.13,224.60 L180.97,227.70 L188.80,225.60 L196.64,220.80 L204.47,218.20 L212.30,214.10 L220.14,211.10 L227.97,210.00 L235.81,205.30 L243.64,202.80 L251.48,200.50 L259.31,194.00 L267.14,190.00 L274.98,185.20 L282.81,181.70 L290.65,177.20 L298.48,174.30 L306.32,169.40 L314.15,163.00 L321.98,156.00 L329.82,149.60 L337.65,141.40 L345.49,134.10 L353.32,120.70 L361.16,109.30" stroke="#0000ff" stroke-width="1.3" fill="none" stroke-linejoin="round"/><path d="M55.62,264.30L57.72,268.00H53.52ZM63.45,259.10L65.55,262.80H61.35ZM71.29,254.40L73.39,258.10H69.19ZM79.12,245.60L81.22,249.30H77.02ZM86.95,253.50L89.05,257.20H84.85ZM94.79,249.70L96.89,253.40H92.69ZM102.62,244.60L104.72,248.30H100.52ZM110.46,249.70L112.56,253.40H108.36ZM118.29,245.90L120.39,249.60H116.19ZM126.13,241.20L128.23,244.90H124.03ZM133.96,234.20L136.06,237.90H131.86ZM141.79,236.60L143.89,240.30H139.69ZM149.63,232.50L151.73,236.20H147.53ZM157.46,230.40L159.56,234.10H155.36ZM165.30,234.90L167.40,238.60H163.20ZM173.13,222.30L175.23,226.00H171.03ZM180.97,225.40L183.07,229.10H178.87ZM188.80,223.30L190.90,227.00H186.70ZM196.64,218.50L198.74,222.20H194.54ZM204.47,215.90L206.57,219.60H202.37ZM212.30,211.80L214.40,215.50H210.20ZM220.14,208.80L222.24,212.50H218.04ZM227.97,207.70L230.07,211.40H225.87ZM235.81,203.00L237.91,206.70H233.71ZM243.64,200.50L245.74,204.20H241.54ZM251.48,198.20L253.58,201.90H249.38ZM259.31,191.70L261.41,195.40H257.21ZM267.14,187.70L269.24,191.40H265.04ZM274.98,182.90L277.08,186.60H272.88ZM282.81,179.40L284.91,183.10H280.71ZM290.65,174.90L292.75,178.60H288.55ZM298.48,172.00L300.58,175.70H296.38ZM306.32,167.10L308.42,170.80H304.22ZM314.15,160.70L316.25,164.40H312.05ZM321.98,153.70L324.08,157.40H319.88ZM329.82,147.30L331.92,151.00H327.72ZM337.65,139.10L339.75,142.80H335.55ZM345.49,131.80L347.59,135.50H343.39ZM353.32,118.40L355.42,122.10H351.22ZM361.16,107.00L363.26,110.70H359.06Z" fill="#0000ff"/><path d="M55.62,263.93V277.01M63.45,266.44V280.24M71.29,258.54V270.20M79.12,261.00V273.29M86.95,249.97V259.72M94.79,253.14V263.56M102.62,252.20V262.42M110.46,247.96V257.32M118.29,242.40V250.75M126.13,241.96V250.25M133.96,244.70V253.46M141.79,235.55V242.83M149.63,229.37V235.80M157.46,227.93V234.18M165.30,231.29V237.97M173.13,229.96V236.48M180.97,230.86V237.49M188.80,224.13V229.93M196.64,219.20V224.47M204.47,218.39V223.57M212.30,212.70V217.33M220.14,211.38V215.89M227.97,210.17V214.58M235.81,207.12V211.28M243.64,201.15V204.85M251.48,199.16V202.73M259.31,194.70V197.97M267.14,192.69V195.84M274.98,188.56V191.46M282.81,184.72V187.43M290.65,180.87V183.38M298.48,176.56V178.87M306.32,171.76V173.87M314.15,165.29V167.16M321.98,160.52V162.22M329.82,153.63V155.13M337.65,142.78V144.00M345.49,135.64V136.71M353.32,122.27V123.10M361.16,107.59V108.22" stroke="#ff0000" stroke-width="1.2" fill="none"/><path d="M54.42,263.93H56.82M54.42,277.01H56.82M62.25,266.44H64.65M62.25,280.24H64.65M70.09,258.54H72.49M70.09,270.20H72.49M77.92,261.00H80.32M77.92,273.29H80.32M85.75,249.97H88.15M85.75,259.72H88.15M93.59,253.14H95.99M93.59,263.56H95.99M101.42,252.20H103.82M101.42,262.42H103.82M109.26,247.96H111.66M109.26,257.32H111.66M117.09,242.40H119.49M117.09,250.75H119.49M124.93,241.96H127.33M124.93,250.25H127.33M132.76,244.70H135.16M132.76,253.46H135.16M140.59,235.55H142.99M140.59,242.83H142.99M148.43,229.37H150.83M148.43,235.80H150.83M156.26,227.93H158.66M156.26,234.18H158.66M164.10,231.29H166.50M164.10,237.97H166.50M171.93,229.96H174.33M171.93,236.48H174.33M179.77,230.86H182.17M179.77,237.49H182.17M187.60,224.13H190.00M187.60,229.93H190.00M195.44,219.20H197.84M195.44,224.47H197.84M203.27,218.39H205.67M203.27,223.57H205.67M211.10,212.70H213.50M211.10,217.33H213.50M218.94,211.38H221.34M218.94,215.89H221.34M226.77,210.17H229.17M226.77,214.58H229.17M234.61,207.12H237.01M234.61,211.28H237.01M242.44,201.15H244.84M242.44,204.85H244.84M250.28,199.16H252.68M250.28,202.73H252.68M258.11,194.70H260.51M258.11,197.97H260.51M265.94,192.69H268.34M265.94,195.84H268.34M273.78,188.56H276.18M273.78,191.46H276.18M281.61,184.72H284.01M281.61,187.43H284.01M289.45,180.87H291.85M289.45,183.38H291.85" stroke="#ff0000" stroke-width="1.2" fill="none"/><path d="M55.62,269.68 L63.45,272.46 L71.29,263.74 L79.12,266.45 L86.95,254.40 L94.79,257.85 L102.62,256.83 L110.46,252.23 L118.29,246.25 L126.13,245.79 L133.96,248.73 L141.79,238.95 L149.63,232.39 L157.46,230.87 L165.30,234.42 L173.13,233.02 L180.97,233.97 L188.80,226.87 L196.64,221.71 L204.47,220.85 L212.30,214.91 L220.14,213.54 L227.97,212.29 L235.81,209.12 L243.64,202.94 L251.48,200.88 L259.31,196.29 L267.14,194.22 L274.98,189.97 L282.81,186.04 L290.65,182.09 L298.48,177.69 L306.32,172.79 L314.15,166.21 L321.98,161.35 L329.82,154.37 L337.65,143.38 L345.49,136.17 L353.32,122.68 L361.16,107.90" stroke="#ff0000" stroke-width="1.7" fill="none" stroke-linejoin="round"/><path d="M54.62,269.68a1,1 0 1,0 2,0a1,1 0 1,0 -2,0M62.45,272.46a1,1 0 1,0 2,0a1,1 0 1,0 -2,0M70.29,263.74a1,1 0 1,0 2,0a1,1 0 1,0 -2,0M78.12,266.45a1,1 0 1,0 2,0a1,1 0 1,0 -2,0M85.95,254.40a1,1 0 1,0 2,0a1,1 0 1,0 -2,0M93.79,257.85a1,1 0 1,0 2,0a1,1 0 1,0 -2,0M101.62,256.83a1,1 0 1,0 2,0a1,1 0 1,0 -2,0M109.46,252.23a1,1 0 1,0 2,0a1,1 0 1,0 -2,0M117.29,246.25a1,1 0 1,0 2,0a1,1 0 1,0 -2,0M125.13,245.79a1,1 0 1,0 2,0a1,1 0 1,0 -2,0M132.96,248.73a1,1 0 1,0 2,0a1,1 0 1,0 -2,0M140.79,238.95a1,1 0 1,0 2,0a1,1 0 1,0 -2,0M148.63,232.39a1,1 0 1,0 2,0a1,1 0 1,0 -2,0M156.46,230.87a1,1 0 1,0 2,0a1,1 0 1,0 -2,0M164.30,234.42a1,1 0 1,0 2,0a1,1 0 1,0 -2,0M172.13,233.02a1,1 0 1,0 2,0a1,1 0 1,0 -2,0M179.97,233.97a1,1 0 1,0 2,0a1,1 0 1,0 -2,0M187.80,226.87a1,1 0 1,0 2,0a1,1 0 1,0 -2,0M195.64,221.71a1,1 0 1,0 2,0a1,1 0 1,0 -2,0M203.47,220.85a1,1 0 1,0 2,0a1,1 0 1,0 -2,0M211.30,214.91a1,1 0 1,0 2,0a1,1 0 1,0 -2,0M219.14,213.54a1,1 0 1,0 2,0a1,1 0 1,0 -2,0M226.97,212.29a1,1 0 1,0 2,0a1,1 0 1,0 -2,0M234.81,209.12a1,1 0 1,0 2,0a1,1 0 1,0 -2,0M242.64,202.94a1,1 0 1,0 2,0a1,1 0 1,0 -2,0M250.48,200.88a1,1 0 1,0 2,0a1,1 0 1,0 -2,0M258.31,196.29a1,1 0 1,0 2,0a1,1 0 1,0 -2,0M266.14,194.22a1,1 0 1,0 2,0a1,1 0 1,0 -2,0M273.98,189.97a1,1 0 1,0 2,0a1,1 0 1,0 -2,0M281.81,186.04a1,1 0 1,0 2,0a1,1 0 1,0 -2,0M289.65,182.09a1,1 0 1,0 2,0a1,1 0 1,0 -2,0M297.48,177.69a1,1 0 1,0 2,0a1,1 0 1,0 -2,0M305.32,172.79a1,1 0 1,0 2,0a1,1 0 1,0 -2,0M313.15,166.21a1,1 0 1,0 2,0a1,1 0 1,0 -2,0M320.98,161.35a1,1 0 1,0 2,0a1,1 0 1,0 -2,0M328.82,154.37a1,1 0 1,0 2,0a1,1 0 1,0 -2,0M336.65,143.38a1,1 0 1,0 2,0a1,1 0 1,0 -2,0M344.49,136.17a1,1 0 1,0 2,0a1,1 0 1,0 -2,0M352.32,122.68a1,1 0 1,0 2,0a1,1 0 1,0 -2,0M360.16,107.90a1,1 0 1,0 2,0a1,1 0 1,0 -2,0" fill="#ff0000"/><path d="M55.62,259.66V269.87M63.45,257.13V266.82M71.29,253.34V262.31M79.12,258.55V268.52M86.95,248.21V256.29M94.79,251.82V260.52M102.62,249.93V258.29M110.46,246.67V254.50M118.29,244.83V252.37M126.13,239.25V246.00M133.96,241.62V248.69M141.79,235.19V241.41M149.63,232.17V238.03M157.46,230.75V236.45M165.30,232.70V238.62M173.13,225.95V231.14M180.97,227.74V233.11M188.80,222.50V227.35M196.64,218.48V222.97M204.47,216.66V220.99M212.30,211.43V215.34M220.14,215.05V219.25M227.97,208.54V212.23M235.81,206.18V209.72M243.64,200.03V203.17M251.48,197.80V200.80M259.31,194.39V197.21M267.14,190.22V192.82M274.98,187.12V189.57M282.81,183.69V185.99M290.65,179.28V181.39M298.48,175.11V177.06M306.32,170.50V172.29M314.15,163.74V165.32M321.98,158.50V159.93M329.82,150.97V152.20M337.65,141.64V142.68M345.49,135.16V136.08M353.32,122.20V122.92M361.16,107.17V107.72" stroke="#ff0080" stroke-width="1.1" fill="none"/><path d="M54.42,259.66H56.82M54.42,269.87H56.82M62.25,257.13H64.65M62.25,266.82H64.65M70.09,253.34H72.49M70.09,262.31H72.49M77.92,258.55H80.32M77.92,268.52H80.32M85.75,248.21H88.15M85.75,256.29H88.15M93.59,251.82H95.99M93.59,260.52H95.99M101.42,249.93H103.82M101.42,258.29H103.82M109.26,246.67H111.66M109.26,254.50H111.66M117.09,244.83H119.49M117.09,252.37H119.49M124.93,239.25H127.33M124.93,246.00H127.33M132.76,241.62H135.16M132.76,248.69H135.16M140.59,235.19H142.99M140.59,241.41H142.99M148.43,232.17H150.83M148.43,238.03H150.83M156.26,230.75H158.66M156.26,236.45H158.66M164.10,232.70H166.50M164.10,238.62H166.50M171.93,225.95H174.33M171.93,231.14H174.33M179.77,227.74H182.17M179.77,233.11H182.17M187.60,222.50H190.00M187.60,227.35H190.00M195.44,218.48H197.84M195.44,222.97H197.84M203.27,216.66H205.67M203.27,220.99H205.67M211.10,211.43H213.50M211.10,215.34H213.50M218.94,215.05H221.34M218.94,219.25H221.34M226.77,208.54H229.17M226.77,212.23H229.17M234.61,206.18H237.01M234.61,209.72H237.01M242.44,200.03H244.84M242.44,203.17H244.84M250.28,197.80H252.68M250.28,200.80H252.68M258.11,194.39H260.51M258.11,197.21H260.51M265.94,190.22H268.34M265.94,192.82H268.34" stroke="#ff0080" stroke-width="1.2" fill="none"/><path d="M55.62,264.28 L63.45,261.54 L71.29,257.45 L79.12,263.07 L86.95,251.95 L94.79,255.82 L102.62,253.79 L110.46,250.30 L118.29,248.34 L126.13,242.41 L133.96,244.92 L141.79,238.12 L149.63,234.94 L157.46,233.45 L165.30,235.50 L173.13,228.42 L180.97,230.29 L188.80,224.82 L196.64,220.63 L204.47,218.74 L212.30,213.32 L220.14,217.07 L227.97,210.32 L235.81,207.89 L243.64,201.56 L251.48,199.26 L259.31,195.76 L267.14,191.49 L274.98,188.31 L282.81,184.81 L290.65,180.31 L298.48,176.06 L306.32,171.38 L314.15,164.52 L321.98,159.21 L329.82,151.58 L337.65,142.15 L345.49,135.62 L353.32,122.56 L361.16,107.44" stroke="#ff0080" stroke-width="1.6" fill="none" stroke-dasharray="2,2.2" stroke-linejoin="round"/><path d="M54.52,264.28a1.1,1.1 0 1,0 2.2,0a1.1,1.1 0 1,0 -2.2,0M62.35,261.54a1.1,1.1 0 1,0 2.2,0a1.1,1.1 0 1,0 -2.2,0M70.19,257.45a1.1,1.1 0 1,0 2.2,0a1.1,1.1 0 1,0 -2.2,0M78.02,263.07a1.1,1.1 0 1,0 2.2,0a1.1,1.1 0 1,0 -2.2,0M85.85,251.95a1.1,1.1 0 1,0 2.2,0a1.1,1.1 0 1,0 -2.2,0M93.69,255.82a1.1,1.1 0 1,0 2.2,0a1.1,1.1 0 1,0 -2.2,0M101.52,253.79a1.1,1.1 0 1,0 2.2,0a1.1,1.1 0 1,0 -2.2,0M109.36,250.30a1.1,1.1 0 1,0 2.2,0a1.1,1.1 0 1,0 -2.2,0M117.19,248.34a1.1,1.1 0 1,0 2.2,0a1.1,1.1 0 1,0 -2.2,0M125.03,242.41a1.1,1.1 0 1,0 2.2,0a1.1,1.1 0 1,0 -2.2,0M132.86,244.92a1.1,1.1 0 1,0 2.2,0a1.1,1.1 0 1,0 -2.2,0M140.69,238.12a1.1,1.1 0 1,0 2.2,0a1.1,1.1 0 1,0 -2.2,0M148.53,234.94a1.1,1.1 0 1,0 2.2,0a1.1,1.1 0 1,0 -2.2,0M156.36,233.45a1.1,1.1 0 1,0 2.2,0a1.1,1.1 0 1,0 -2.2,0M164.20,235.50a1.1,1.1 0 1,0 2.2,0a1.1,1.1 0 1,0 -2.2,0M172.03,228.42a1.1,1.1 0 1,0 2.2,0a1.1,1.1 0 1,0 -2.2,0M179.87,230.29a1.1,1.1 0 1,0 2.2,0a1.1,1.1 0 1,0 -2.2,0M187.70,224.82a1.1,1.1 0 1,0 2.2,0a1.1,1.1 0 1,0 -2.2,0M195.54,220.63a1.1,1.1 0 1,0 2.2,0a1.1,1.1 0 1,0 -2.2,0M203.37,218.74a1.1,1.1 0 1,0 2.2,0a1.1,1.1 0 1,0 -2.2,0M211.20,213.32a1.1,1.1 0 1,0 2.2,0a1.1,1.1 0 1,0 -2.2,0M219.04,217.07a1.1,1.1 0 1,0 2.2,0a1.1,1.1 0 1,0 -2.2,0M226.87,210.32a1.1,1.1 0 1,0 2.2,0a1.1,1.1 0 1,0 -2.2,0M234.71,207.89a1.1,1.1 0 1,0 2.2,0a1.1,1.1 0 1,0 -2.2,0M242.54,201.56a1.1,1.1 0 1,0 2.2,0a1.1,1.1 0 1,0 -2.2,0M250.38,199.26a1.1,1.1 0 1,0 2.2,0a1.1,1.1 0 1,0 -2.2,0M258.21,195.76a1.1,1.1 0 1,0 2.2,0a1.1,1.1 0 1,0 -2.2,0M266.04,191.49a1.1,1.1 0 1,0 2.2,0a1.1,1.1 0 1,0 -2.2,0M273.88,188.31a1.1,1.1 0 1,0 2.2,0a1.1,1.1 0 1,0 -2.2,0M281.71,184.81a1.1,1.1 0 1,0 2.2,0a1.1,1.1 0 1,0 -2.2,0M289.55,180.31a1.1,1.1 0 1,0 2.2,0a1.1,1.1 0 1,0 -2.2,0M297.38,176.06a1.1,1.1 0 1,0 2.2,0a1.1,1.1 0 1,0 -2.2,0M305.22,171.38a1.1,1.1 0 1,0 2.2,0a1.1,1.1 0 1,0 -2.2,0M313.05,164.52a1.1,1.1 0 1,0 2.2,0a1.1,1.1 0 1,0 -2.2,0M320.88,159.21a1.1,1.1 0 1,0 2.2,0a1.1,1.1 0 1,0 -2.2,0M328.72,151.58a1.1,1.1 0 1,0 2.2,0a1.1,1.1 0 1,0 -2.2,0M336.55,142.15a1.1,1.1 0 1,0 2.2,0a1.1,1.1 0 1,0 -2.2,0M344.39,135.62a1.1,1.1 0 1,0 2.2,0a1.1,1.1 0 1,0 -2.2,0M352.22,122.56a1.1,1.1 0 1,0 2.2,0a1.1,1.1 0 1,0 -2.2,0M360.06,107.44a1.1,1.1 0 1,0 2.2,0a1.1,1.1 0 1,0 -2.2,0" fill="#ff0080"/><path d="M55.62,257.68V267.48M63.45,250.58V259.05M71.29,251.06V259.61M79.12,256.56V266.14M86.95,240.72V247.67M94.79,247.53V255.50M102.62,245.63V253.29M110.46,240.03V246.88M118.29,237.46V243.97M126.13,237.51V244.03M133.96,240.17V247.04M141.79,229.06V234.57M149.63,228.37V233.81M157.46,226.07V231.27M165.30,226.85V232.13M173.13,221.54V226.30M180.97,223.63V228.59M188.80,217.79V222.21M196.64,215.83V220.08M204.47,214.80V218.97M212.30,207.78V211.43M220.14,207.17V210.77M227.97,204.02V207.41M235.81,200.08V203.22M243.64,196.84V199.79M251.48,194.60V197.43M259.31,190.11V192.71M267.14,185.42V187.79M274.98,182.04V184.26M282.81,180.23V182.38M290.65,173.95V175.85M298.48,169.19V170.94M306.32,164.12V165.71M314.15,159.20V160.65M321.98,153.11V154.40M329.82,148.18V149.35M337.65,136.44V137.38M345.49,130.48V131.32M353.32,117.38V118.04M361.16,103.81V104.32" stroke="#ff00ff" stroke-width="1.1" fill="none"/><path d="M54.42,257.68H56.82M54.42,267.48H56.82M62.25,250.58H64.65M62.25,259.05H64.65M70.09,251.06H72.49M70.09,259.61H72.49M77.92,256.56H80.32M77.92,266.14H80.32M85.75,240.72H88.15M85.75,247.67H88.15M93.59,247.53H95.99M93.59,255.50H95.99M101.42,245.63H103.82M101.42,253.29H103.82M109.26,240.03H111.66M109.26,246.88H111.66M117.09,237.46H119.49M117.09,243.97H119.49M124.93,237.51H127.33M124.93,244.03H127.33M132.76,240.17H135.16M132.76,247.04H135.16M140.59,229.06H142.99M140.59,234.57H142.99M148.43,228.37H150.83M148.43,233.81H150.83M156.26,226.07H158.66M156.26,231.27H158.66M164.10,226.85H166.50M164.10,232.13H166.50M171.93,221.54H174.33M171.93,226.30H174.33M179.77,223.63H182.17M179.77,228.59H182.17M187.60,217.79H190.00M187.60,222.21H190.00M195.44,215.83H197.84M195.44,220.08H197.84M203.27,214.80H205.67M203.27,218.97H205.67M211.10,207.78H213.50M211.10,211.43H213.50M218.94,207.17H221.34M218.94,210.77H221.34M226.77,204.02H229.17M226.77,207.41H229.17M234.61,200.08H237.01M234.61,203.22H237.01M242.44,196.84H244.84M242.44,199.79H244.84M250.28,194.60H252.68M250.28,197.43H252.68M258.11,190.11H260.51M258.11,192.71H260.51" stroke="#ff00ff" stroke-width="1.2" fill="none"/><path d="M55.62,262.14 L63.45,254.48 L71.29,255.00 L79.12,260.93 L86.95,243.97 L94.79,251.22 L102.62,249.19 L110.46,243.24 L118.29,240.51 L126.13,240.57 L133.96,243.39 L141.79,231.67 L149.63,230.95 L157.46,228.54 L165.30,229.36 L173.13,223.82 L180.97,226.00 L188.80,219.91 L196.64,217.87 L204.47,216.80 L212.30,209.54 L220.14,208.91 L227.97,205.66 L235.81,201.60 L243.64,198.27 L251.48,195.97 L259.31,191.38 L267.14,186.58 L274.98,183.13 L282.81,181.29 L290.65,174.88 L298.48,170.05 L306.32,164.90 L314.15,159.92 L321.98,153.74 L329.82,148.76 L337.65,136.90 L345.49,130.89 L353.32,117.71 L361.16,104.07" stroke="#ff00ff" stroke-width="1.3" fill="none" stroke-dasharray="1.2,1.3" stroke-linejoin="round"/><path d="M53.92,260.44L57.32,263.84M57.32,260.44L53.92,263.84M55.62,260.04V264.24M61.75,252.78L65.15,256.18M65.15,252.78L61.75,256.18M63.45,252.38V256.58M69.59,253.30L72.99,256.70M72.99,253.30L69.59,256.70M71.29,252.90V257.10M77.42,259.23L80.82,262.63M80.82,259.23L77.42,262.63M79.12,258.83V263.03M85.25,242.27L88.65,245.67M88.65,242.27L85.25,245.67M86.95,241.87V246.07M93.09,249.52L96.49,252.92M96.49,249.52L93.09,252.92M94.79,249.12V253.32M100.92,247.49L104.32,250.89M104.32,247.49L100.92,250.89M102.62,247.09V251.29M108.76,241.54L112.16,244.94M112.16,241.54L108.76,244.94M110.46,241.14V245.34M116.59,238.81L119.99,242.21M119.99,238.81L116.59,242.21M118.29,238.41V242.61M124.43,238.87L127.83,242.27M127.83,238.87L124.43,242.27M126.13,238.47V242.67M132.26,241.69L135.66,245.09M135.66,241.69L132.26,245.09M133.96,241.29V245.49M140.09,229.97L143.49,233.37M143.49,229.97L140.09,233.37M141.79,229.57V233.77M147.93,229.25L151.33,232.65M151.33,229.25L147.93,232.65M149.63,228.85V233.05M155.76,226.84L159.16,230.24M159.16,226.84L155.76,230.24M157.46,226.44V230.64M163.60,227.66L167.00,231.06M167.00,227.66L163.60,231.06M165.30,227.26V231.46M171.43,222.12L174.83,225.52M174.83,222.12L171.43,225.52M173.13,221.72V225.92M179.27,224.30L182.67,227.70M182.67,224.30L179.27,227.70M180.97,223.90V228.10M187.10,218.21L190.50,221.61M190.50,218.21L187.10,221.61M188.80,217.81V222.01M194.94,216.17L198.34,219.57M198.34,216.17L194.94,219.57M196.64,215.77V219.97M202.77,215.10L206.17,218.50M206.17,215.10L202.77,218.50M204.47,214.70V218.90M210.60,207.84L214.00,211.24M214.00,207.84L210.60,211.24M212.30,207.44V211.64M218.44,207.21L221.84,210.61M221.84,207.21L218.44,210.61M220.14,206.81V211.01M226.27,203.96L229.67,207.36M229.67,203.96L226.27,207.36M227.97,203.56V207.76M234.11,199.90L237.51,203.30M237.51,199.90L234.11,203.30M235.81,199.50V203.70M241.94,196.57L245.34,199.97M245.34,196.57L241.94,199.97M243.64,196.17V200.37M249.78,194.27L253.18,197.67M253.18,194.27L249.78,197.67M251.48,193.87V198.07M257.61,189.68L261.01,193.08M261.01,189.68L257.61,193.08M259.31,189.28V193.48M265.44,184.88L268.84,188.28M268.84,184.88L265.44,188.28M267.14,184.48V188.68M273.28,181.43L276.68,184.83M276.68,181.43L273.28,184.83M274.98,181.03V185.23M281.11,179.59L284.51,182.99M284.51,179.59L281.11,182.99M282.81,179.19V183.39M288.95,173.18L292.35,176.58M292.35,173.18L288.95,176.58M290.65,172.78V176.98M296.78,168.35L300.18,171.75M300.18,168.35L296.78,171.75M298.48,167.95V172.15M304.62,163.20L308.02,166.60M308.02,163.20L304.62,166.60M306.32,162.80V167.00M312.45,158.22L315.85,161.62M315.85,158.22L312.45,161.62M314.15,157.82V162.02M320.28,152.04L323.68,155.44M323.68,152.04L320.28,155.44M321.98,151.64V155.84M328.12,147.06L331.52,150.46M331.52,147.06L328.12,150.46M329.82,146.66V150.86M335.95,135.20L339.35,138.60M339.35,135.20L335.95,138.60M337.65,134.80V139.00M343.79,129.19L347.19,132.59M347.19,129.19L343.79,132.59M345.49,128.79V132.99M351.62,116.01L355.02,119.41M355.02,116.01L351.62,119.41M353.32,115.61V119.81M359.46,102.37L362.86,105.77M362.86,102.37L359.46,105.77M361.16,101.97V106.17" fill="none" stroke="#ff00ff" stroke-width="0.95"/><path d="M55.62,260.68V271.10M63.45,258.26V268.18M71.29,262.41V273.22M79.12,255.28V264.61M86.95,253.19V262.13M94.79,255.44V264.80M102.62,247.81V255.82M110.46,252.57V261.39M118.29,249.31V257.57M126.13,248.22V256.29M133.96,245.77V253.46M141.79,242.43V249.62M149.63,238.86V245.55M157.46,234.22V240.33M165.30,239.67V246.48M173.13,230.08V235.71M180.97,231.25V237.01M188.80,226.88V232.16M196.64,224.96V230.05M204.47,222.06V226.86M212.30,215.58V219.82M220.14,214.76V218.93M227.97,210.23V214.05M235.81,210.19V214.01M243.64,208.52V212.21M251.48,203.91V207.29M259.31,201.56V204.79M267.14,195.01V197.86M274.98,191.40V194.07M282.81,188.25V190.76M290.65,183.04V185.31M298.48,178.87V180.97M306.32,173.70V175.60M314.15,166.68V168.34M321.98,161.44V162.95M329.82,154.00V155.31M337.65,145.74V146.86M345.49,137.75V138.71M353.32,124.09V124.83M361.16,111.26V111.85" stroke="#00c800" stroke-width="1.0" fill="none"/><path d="M54.42,260.68H56.82M54.42,271.10H56.82M62.25,258.26H64.65M62.25,268.18H64.65M70.09,262.41H72.49M70.09,273.22H72.49M77.92,255.28H80.32M77.92,264.61H80.32M85.75,253.19H88.15M85.75,262.13H88.15M93.59,255.44H95.99M93.59,264.80H95.99M101.42,247.81H103.82M101.42,255.82H103.82M109.26,252.57H111.66M109.26,261.39H111.66M117.09,249.31H119.49M117.09,257.57H119.49M124.93,248.22H127.33M124.93,256.29H127.33M132.76,245.77H135.16M132.76,253.46H135.16M140.59,242.43H142.99M140.59,249.62H142.99M148.43,238.86H150.83M148.43,245.55H150.83M156.26,234.22H158.66M156.26,240.33H158.66M164.10,239.67H166.50M164.10,246.48H166.50M171.93,230.08H174.33M171.93,235.71H174.33M179.77,231.25H182.17M179.77,237.01H182.17M187.60,226.88H190.00M187.60,232.16H190.00M195.44,224.96H197.84M195.44,230.05H197.84M203.27,222.06H205.67M203.27,226.86H205.67M211.10,215.58H213.50M211.10,219.82H213.50M218.94,214.76H221.34M218.94,218.93H221.34M226.77,210.23H229.17M226.77,214.05H229.17M234.61,210.19H237.01M234.61,214.01H237.01M242.44,208.52H244.84M242.44,212.21H244.84M250.28,203.91H252.68M250.28,207.29H252.68M258.11,201.56H260.51M258.11,204.79H260.51M265.94,195.01H268.34M265.94,197.86H268.34M273.78,191.40H276.18M273.78,194.07H276.18M281.61,188.25H284.01M281.61,190.76H284.01" stroke="#00c800" stroke-width="1.2" fill="none"/><path d="M55.62,265.39 L63.45,262.77 L71.29,267.27 L79.12,259.54 L86.95,257.29 L94.79,259.72 L102.62,251.52 L110.46,256.62 L118.29,253.12 L126.13,251.95 L133.96,249.34 L141.79,245.79 L149.63,242.00 L157.46,237.10 L165.30,242.86 L173.13,232.75 L180.97,233.97 L188.80,229.39 L196.64,227.38 L204.47,224.35 L212.30,217.61 L220.14,216.76 L227.97,212.07 L235.81,212.04 L243.64,210.30 L251.48,205.55 L259.31,203.13 L267.14,196.40 L274.98,192.70 L282.81,189.48 L290.65,184.15 L298.48,179.90 L306.32,174.63 L314.15,167.50 L321.98,162.18 L329.82,154.65 L337.65,146.29 L345.49,138.23 L353.32,124.46 L361.16,111.56" stroke="#00c800" stroke-width="1.2" fill="none" stroke-dasharray="2.2,1.8" stroke-linejoin="round"/><path d="M55.62,262.99L57.82,266.94H53.42ZM63.45,260.37L65.65,264.32H61.25ZM71.29,264.87L73.49,268.82H69.09ZM79.12,257.14L81.32,261.09H76.92ZM86.95,254.89L89.15,258.84H84.75ZM94.79,257.32L96.99,261.27H92.59ZM102.62,249.12L104.82,253.07H100.42ZM110.46,254.22L112.66,258.17H108.26ZM118.29,250.72L120.49,254.67H116.09ZM126.13,249.55L128.33,253.50H123.93ZM133.96,246.94L136.16,250.89H131.76ZM141.79,243.39L143.99,247.34H139.59ZM149.63,239.60L151.83,243.55H147.43ZM157.46,234.70L159.66,238.65H155.26ZM165.30,240.46L167.50,244.41H163.10ZM173.13,230.35L175.33,234.30H170.93ZM180.97,231.57L183.17,235.52H178.77ZM188.80,226.99L191.00,230.94H186.60ZM196.64,224.98L198.84,228.93H194.44ZM204.47,221.95L206.67,225.90H202.27ZM212.30,215.21L214.50,219.16H210.10ZM220.14,214.36L222.34,218.31H217.94ZM227.97,209.67L230.17,213.62H225.77ZM235.81,209.64L238.01,213.59H233.61ZM243.64,207.90L245.84,211.85H241.44ZM251.48,203.15L253.68,207.10H249.28ZM259.31,200.73L261.51,204.68H257.11ZM267.14,194.00L269.34,197.95H264.94ZM274.98,190.30L277.18,194.25H272.78ZM282.81,187.08L285.01,191.03H280.61ZM290.65,181.75L292.85,185.70H288.45ZM298.48,177.50L300.68,181.45H296.28ZM306.32,172.23L308.52,176.18H304.12ZM314.15,165.10L316.35,169.05H311.95ZM321.98,159.78L324.18,163.73H319.78ZM329.82,152.25L332.02,156.20H327.62ZM337.65,143.89L339.85,147.84H335.45ZM345.49,135.83L347.69,139.78H343.29ZM353.32,122.06L355.52,126.01H351.12ZM361.16,109.16L363.36,113.11H358.96Z" fill="#fff" stroke="#00c800" stroke-width="1.05"/></g><path d="M45.3,397.55H371.4" stroke="#222" stroke-width="1.2" fill="none"/><path d="M45.3,316.13h6M371.4,316.13h-6M45.3,313.30h11.6M371.4,313.30h-11.6M45.3,294.70h6M371.4,294.70h-6M45.3,283.81h6M371.4,283.81h-6M45.3,276.09h6M371.4,276.09h-6M45.3,270.10h6M371.4,270.10h-6M45.3,265.21h6M371.4,265.21h-6M45.3,261.07h6M371.4,261.07h-6M45.3,257.49h6M371.4,257.49h-6M45.3,254.33h6M371.4,254.33h-6M45.3,251.50h11.6M371.4,251.50h-11.6M45.3,232.90h6M371.4,232.90h-6M45.3,222.01h6M371.4,222.01h-6M45.3,214.29h6M371.4,214.29h-6M45.3,208.30h6M371.4,208.30h-6M45.3,203.41h6M371.4,203.41h-6M45.3,199.27h6M371.4,199.27h-6M45.3,195.69h6M371.4,195.69h-6M45.3,192.53h6M371.4,192.53h-6M45.3,189.70h11.6M371.4,189.70h-11.6M45.3,171.10h6M371.4,171.10h-6M45.3,160.21h6M371.4,160.21h-6M45.3,152.49h6M371.4,152.49h-6M45.3,146.50h6M371.4,146.50h-6M45.3,141.61h6M371.4,141.61h-6M45.3,137.47h6M371.4,137.47h-6M45.3,133.89h6M371.4,133.89h-6M45.3,130.73h6M371.4,130.73h-6M45.3,127.90h11.6M371.4,127.90h-11.6M45.3,109.30h6M371.4,109.30h-6M45.3,98.41h6M371.4,98.41h-6M45.3,90.69h6M371.4,90.69h-6M45.3,84.70h6M371.4,84.70h-6M45.3,79.81h6M371.4,79.81h-6M45.3,75.67h6M371.4,75.67h-6M45.3,72.09h6M371.4,72.09h-6M45.3,68.93h6M371.4,68.93h-6M45.3,66.10h11.6M371.4,66.10h-11.6M45.3,47.50h6M371.4,47.50h-6M45.3,36.61h6M371.4,36.61h-6M45.3,28.89h6M371.4,28.89h-6M45.3,22.90h6M371.4,22.90h-6M45.3,18.01h6M371.4,18.01h-6M51.70,17.4v8M51.70,317.4v-8M51.70,317.4v5M51.70,477.7v-5M61.68,17.4v2.5M61.68,317.4v-2.5M61.68,317.4v2M61.68,477.7v-1.8M71.65,17.4v2.5M71.65,317.4v-2.5M71.65,317.4v2M71.65,477.7v-1.8M81.62,17.4v2.5M81.62,317.4v-2.5M81.62,317.4v2M81.62,477.7v-1.8M91.60,17.4v2.5M91.60,317.4v-2.5M91.60,317.4v2M91.60,477.7v-1.8M101.58,17.4v2.5M101.58,317.4v-2.5M101.58,317.4v2M101.58,477.7v-1.8M111.55,17.4v2.5M111.55,317.4v-2.5M111.55,317.4v2M111.55,477.7v-1.8M121.52,17.4v2.5M121.52,317.4v-2.5M121.52,317.4v2M121.52,477.7v-1.8M131.50,17.4v2.5M131.50,317.4v-2.5M131.50,317.4v2M131.50,477.7v-1.8M141.48,17.4v2.5M141.48,317.4v-2.5M141.48,317.4v2M141.48,477.7v-1.8M151.45,17.4v8M151.45,317.4v-8M151.45,317.4v5M151.45,477.7v-5M161.43,17.4v2.5M161.43,317.4v-2.5M161.43,317.4v2M161.43,477.7v-1.8M171.40,17.4v2.5M171.40,317.4v-2.5M171.40,317.4v2M171.40,477.7v-1.8M181.38,17.4v2.5M181.38,317.4v-2.5M181.38,317.4v2M181.38,477.7v-1.8M191.35,17.4v2.5M191.35,317.4v-2.5M191.35,317.4v2M191.35,477.7v-1.8M201.32,17.4v2.5M201.32,317.4v-2.5M201.32,317.4v2M201.32,477.7v-1.8M211.30,17.4v2.5M211.30,317.4v-2.5M211.30,317.4v2M211.30,477.7v-1.8M221.27,17.4v2.5M221.27,317.4v-2.5M221.27,317.4v2M221.27,477.7v-1.8M231.25,17.4v2.5M231.25,317.4v-2.5M231.25,317.4v2M231.25,477.7v-1.8M241.22,17.4v2.5M241.22,317.4v-2.5M241.22,317.4v2M241.22,477.7v-1.8M251.20,17.4v8M251.20,317.4v-8M251.20,317.4v5M251.20,477.7v-5M261.18,17.4v2.5M261.18,317.4v-2.5M261.18,317.4v2M261.18,477.7v-1.8M271.15,17.4v2.5M271.15,317.4v-2.5M271.15,317.4v2M271.15,477.7v-1.8M281.12,17.4v2.5M281.12,317.4v-2.5M281.12,317.4v2M281.12,477.7v-1.8M291.10,17.4v2.5M291.10,317.4v-2.5M291.10,317.4v2M291.10,477.7v-1.8M301.07,17.4v2.5M301.07,317.4v-2.5M301.07,317.4v2M301.07,477.7v-1.8M311.05,17.4v2.5M311.05,317.4v-2.5M311.05,317.4v2M311.05,477.7v-1.8M321.03,17.4v2.5M321.03,317.4v-2.5M321.03,317.4v2M321.03,477.7v-1.8M331.00,17.4v2.5M331.00,317.4v-2.5M331.00,317.4v2M331.00,477.7v-1.8M340.97,17.4v2.5M340.97,317.4v-2.5M340.97,317.4v2M340.97,477.7v-1.8M350.95,17.4v8M350.95,317.4v-8M350.95,317.4v5M350.95,477.7v-5M360.93,17.4v2.5M360.93,317.4v-2.5M360.93,317.4v2M360.93,477.7v-1.8M370.90,17.4v2.5M370.90,317.4v-2.5M370.90,317.4v2M370.90,477.7v-1.8M45.3,458.18h7.6M371.4,458.18h-7.6M45.3,442.23h5.6M371.4,442.23h-5.6M45.3,428.75h5.6M371.4,428.75h-5.6M45.3,417.07h5.6M371.4,417.07h-5.6M45.3,406.77h5.6M371.4,406.77h-5.6M45.3,397.55h7.6M371.4,397.55h-7.6M45.3,389.21h5.6M371.4,389.21h-5.6M45.3,381.60h5.6M371.4,381.60h-5.6M45.3,374.60h5.6M371.4,374.60h-5.6M45.3,368.12h5.6M371.4,368.12h-5.6M45.3,362.08h7.6M371.4,362.08h-7.6M45.3,356.44h5.6M371.4,356.44h-5.6M45.3,351.13h5.6M371.4,351.13h-5.6M45.3,346.13h5.6M371.4,346.13h-5.6M45.3,341.41h5.6M371.4,341.41h-5.6M45.3,336.92h7.6M371.4,336.92h-7.6M45.3,332.65h5.6M371.4,332.65h-5.6M45.3,328.58h5.6M371.4,328.58h-5.6M45.3,324.69h5.6M371.4,324.69h-5.6M45.3,320.97h5.6M371.4,320.97h-5.6" stroke="#000" stroke-width="1.0" fill="none"/><rect x="45.3" y="17.4" width="326.10" height="300.00" fill="none" stroke="#000" stroke-width="1.1"/><rect x="45.3" y="317.4" width="326.10" height="160.30" fill="none" stroke="#000" stroke-width="1.1"/><text transform="translate(50.5,13.6) scale(0.979,0.967)" font-size="12.5" text-anchor="start" fill="#000" style="color:#000;stroke-width:0.25px" >7000 GeV pp</text><text transform="translate(273.95,13.87) scale(0.968,1.0)" font-size="12.5" text-anchor="start" fill="#000" style="color:#000;stroke-width:0.25px" >Top (parton level)</text><text transform="translate(162.6,42.78) scale(1.06,0.93)" font-size="9.5" text-anchor="start" fill="#000" style="color:#000;stroke-width:0.08px" >Δϕ (ttbar) (Mtt &gt; 450)</text><text transform="translate(173.4,301.8) scale(1.03,1.0)" font-size="7.8" text-anchor="start" fill="#b0b0b0" style="color:#b0b0b0;stroke-width:0.08px" >(MC_FBA_TTBAR)</text><text transform="translate(23.6,70.9) scale(0.87,1.0)" font-size="10.8" text-anchor="start" fill="#000" style="color:#000;stroke-width:0.08px" >10</text><text transform="translate(34.0,66.8) scale(1.05,1.0)" font-size="8.2" text-anchor="start" fill="#000" style="color:#000;stroke-width:0.08px" >3</text><text transform="translate(23.6,132.9) scale(0.89,1.0)" font-size="10.8" text-anchor="start" fill="#000" style="color:#000;stroke-width:0.08px" >10</text><text transform="translate(34.3,128.8) scale(1.0,1.0)" font-size="8.2" text-anchor="start" fill="#000" style="color:#000;stroke-width:0.08px" >2</text><text transform="translate(33.95,193.8) scale(1.06,0.95)" font-size="10.8" text-anchor="middle" fill="#000" style="color:#000;stroke-width:0.08px" >10</text><text transform="translate(37.65,255.5) scale(1.0,1.0)" font-size="10.8" text-anchor="middle" fill="#000" style="color:#000;stroke-width:0.08px" >1</text><text transform="translate(21.7,317.4) scale(0.89,1.0)" font-size="10.8" text-anchor="start" fill="#000" style="color:#000;stroke-width:0.08px" >10</text><text transform="translate(33.2,312.8) scale(0.9,1.0)" font-size="8" text-anchor="start" fill="#000" style="color:#000;stroke-width:0.08px" >−1</text><text transform="translate(35.05,340.6) scale(1.0,1.0)" font-size="10.8" text-anchor="middle" fill="#000" style="color:#000;stroke-width:0.08px" >2</text><text transform="translate(35.6,401.8) scale(1.0,1.0)" font-size="10.8" text-anchor="middle" fill="#000" style="color:#000;stroke-width:0.08px" >1</text><text transform="translate(21.5,461.9) scale(1.05,1.0)" font-size="10.8" text-anchor="start" fill="#000" style="color:#000;stroke-width:0.08px" >0.5</text><text transform="translate(377.05,340.4) scale(1.0,1.0)" font-size="10.8" text-anchor="middle" fill="#000" style="color:#000;stroke-width:0.08px" >2</text><text transform="translate(376.6,402.6) scale(1.0,1.0)" font-size="10.8" text-anchor="middle" fill="#000" style="color:#000;stroke-width:0.08px" >1</text><text transform="translate(373.3,461.8) scale(1.07,1.0)" font-size="10.8" text-anchor="start" fill="#000" style="color:#000;stroke-width:0.08px" >0.5</text><text transform="translate(51.4,488.7) scale(1.0,1.0)" font-size="10.8" text-anchor="middle" fill="#000" style="color:#000;stroke-width:0.08px" >0</text><text transform="translate(151.4,488.7) scale(1.0,1.0)" font-size="10.8" text-anchor="middle" fill="#000" style="color:#000;stroke-width:0.08px" >1</text><text transform="translate(251.35,488.7) scale(1.0,1.0)" font-size="10.8" text-anchor="middle" fill="#000" style="color:#000;stroke-width:0.08px" >2</text><text transform="translate(351.0,489.0) scale(1.0,1.0)" font-size="10.8" text-anchor="middle" fill="#000" style="color:#000;stroke-width:0.08px" >3</text><text transform="translate(380.1,127.7) rotate(-90)" font-size="9.5" fill="#555" style="color:#555">Rivet 4.1.0, ≥ 100k events</text><text transform="translate(380.1,314.3) rotate(-90)" font-size="9.5" fill="#555" style="color:#555">mcplots.cern.ch [arXiv:2401.10621]</text><text transform="translate(17.2,395.9) rotate(-90)" font-size="9.2" text-anchor="middle" fill="#000">Ratio to Pythia 8.315 default</text><text transform="translate(94.0,65.3) scale(1.02,1.0)" font-size="9.3" text-anchor="start" fill="#000" style="color:#000;stroke-width:0.08px" >Pythia 8.315 default</text><text transform="translate(94.0,78.25) scale(1.02,1.0)" font-size="9.3" text-anchor="start" fill="#000" style="color:#000;stroke-width:0.08px" >Pythia 8.315 tune-A14-CTEQL1</text><text transform="translate(94.0,91.2) scale(1.02,1.0)" font-size="9.3" text-anchor="start" fill="#000" style="color:#000;stroke-width:0.08px" >Pythia 8.315 tune-A14-MSTW2008LO</text><text transform="translate(94.0,104.25) scale(1.02,1.0)" font-size="9.3" text-anchor="start" fill="#000" style="color:#000;stroke-width:0.08px" >Pythia 8.315 tune-A14-NNPDF2.3LO</text><text transform="translate(94.0,117.39999999999999) scale(1.02,1.0)" font-size="9.3" text-anchor="start" fill="#000" style="color:#000;stroke-width:0.08px" >Pythia 8.315 tune-CUETP8S1</text><path d="M64.1,62H89" stroke="#4848ff" stroke-width="1.0" fill="none"/><path d="M64.1,74.95H89" stroke="#ff2020" stroke-width="1.3" fill="none"/><path d="M64.1,87.9H89" stroke="#ff1493" stroke-width="1.5" fill="none" stroke-dasharray="2,2.2"/><path d="M64.1,100.95H89" stroke="#ff55ee" stroke-width="1.4" fill="none" stroke-dasharray="0.9,1.0"/><path d="M64.1,114.1H89" stroke="#22cc22" stroke-width="1.1" fill="none" stroke-dasharray="2,1.9"/><path d="M76.5,59.5L79.1,64.7H73.9Z" fill="#0000ff"/><path d="M76.5,111.8L78.9,116.3H74.1Z" fill="#fff" stroke="#00cc00" stroke-width="1"/></svg></div></body></html>
